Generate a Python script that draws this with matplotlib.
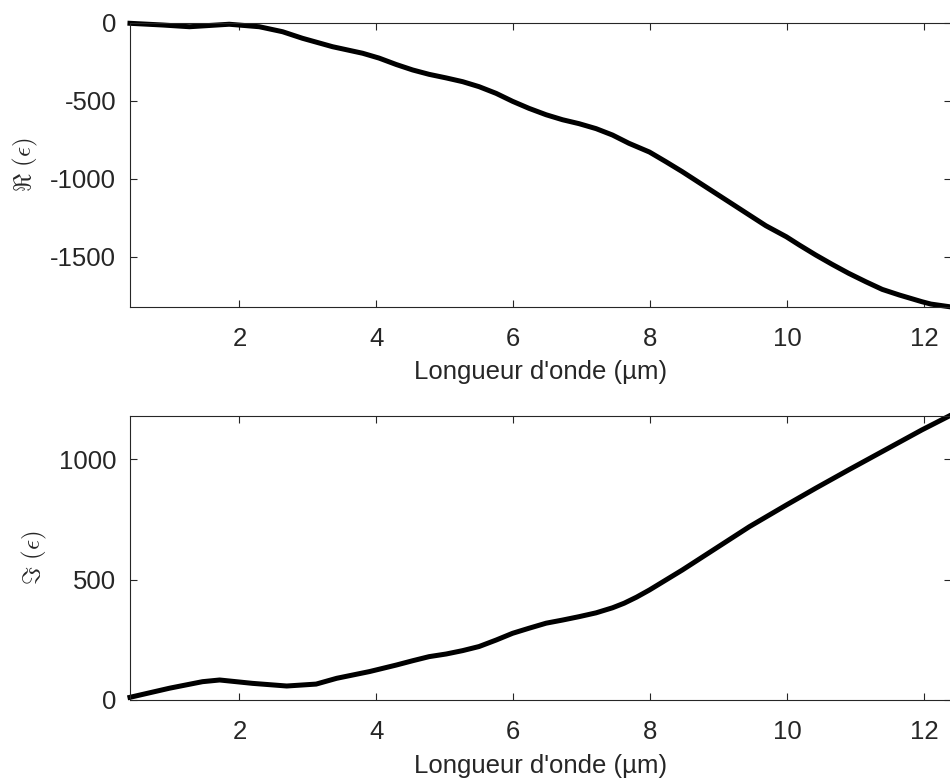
import matplotlib.pyplot as plt

plt.rcParams['font.family'] = ['Liberation Sans', 'DejaVu Sans']
plt.rcParams['mathtext.fontset'] = 'cm'
plt.rcParams['axes.unicode_minus'] = False

# real part of permittivity vs wavelength (um)
lam_re = [0.40, 0.88, 1.27, 1.85, 2.29, 2.63, 2.92, 3.36, 3.80, 4.04, 4.29, 4.53,
          4.77, 5.02, 5.26, 5.50, 5.75, 5.99, 6.23, 6.48, 6.72, 6.96, 7.21, 7.45,
          7.69, 7.99, 8.23, 8.47, 8.72, 8.96, 9.20, 9.45, 9.69, 9.99, 10.18, 10.42,
          10.66, 10.90, 11.15, 11.39, 11.64, 11.97, 12.10, 12.37]
eps_re = [-4, -15, -26, -10, -26, -58, -100, -154, -196, -227, -268, -303,
          -331, -354, -378, -410, -453, -504, -549, -590, -622, -647, -679, -720,
          -773, -829, -891, -955, -1026, -1094, -1162, -1233, -1301, -1372, -1425, -1489,
          -1549, -1606, -1660, -1709, -1745, -1788, -1803, -1820]

# imaginary part
lam_im = [0.40, 0.98, 1.46, 1.71, 2.19, 2.69, 3.12, 3.42, 3.90, 4.29, 4.53, 4.77,
          5.02, 5.26, 5.50, 5.75, 5.99, 6.23, 6.48, 6.72, 6.96, 7.21, 7.45, 7.62,
          7.80, 7.99, 8.47, 8.96, 9.45, 9.99, 10.42, 10.90, 11.39, 11.97, 12.37]
eps_im = [11, 49, 76, 83, 69, 58, 66, 90, 118, 145, 163, 180,
          191, 205, 222, 249, 277, 298, 319, 332, 346, 362, 383, 402,
          427, 457, 540, 630, 720, 810, 880, 956, 1032, 1122, 1180]

xticks = [2, 4, 6, 8, 10, 12]
grey = '#262626'

fig = plt.figure(figsize=(9.5, 7.82), dpi=100)
ax1 = fig.add_axes([0.1368, 0.6078, 0.8646, 0.3632])
ax2 = fig.add_axes([0.1368, 0.1049, 0.8646, 0.3632])

ax1.plot(lam_re, eps_re, color='black', linewidth=3.6, clip_on=False)
ax1.set_ylim(-1820, 0)
ax1.set_yticks([0, -500, -1000, -1500])
ax1.set_ylabel(r'$\Re\ (\epsilon)$', fontsize=18, color=grey, labelpad=7)

ax2.plot(lam_im, eps_im, color='black', linewidth=3.6, clip_on=False)
ax2.set_ylim(0, 1180)
ax2.set_yticks([0, 500, 1000])
ax2.set_ylabel(r'$\Im\ (\epsilon)$', fontsize=18, color=grey, labelpad=7)

for ax in (ax1, ax2):
    ax.set_xlim(0.4, 12.4)
    ax.set_xticks(xticks)
    ax.set_xlabel("Longueur d'onde (µm)", fontsize=18.5, color=grey, labelpad=7)
    ax.tick_params(direction='in', length=5, width=0.8, colors=grey,
                   labelsize=18.5, top=True, right=True)
    ax.tick_params(axis='x', pad=14.4)
    ax.tick_params(axis='y', pad=10)
    for s in ax.spines.values():
        s.set_color(grey)
        s.set_linewidth(0.8)

fig.savefig('out.png', dpi=100)
